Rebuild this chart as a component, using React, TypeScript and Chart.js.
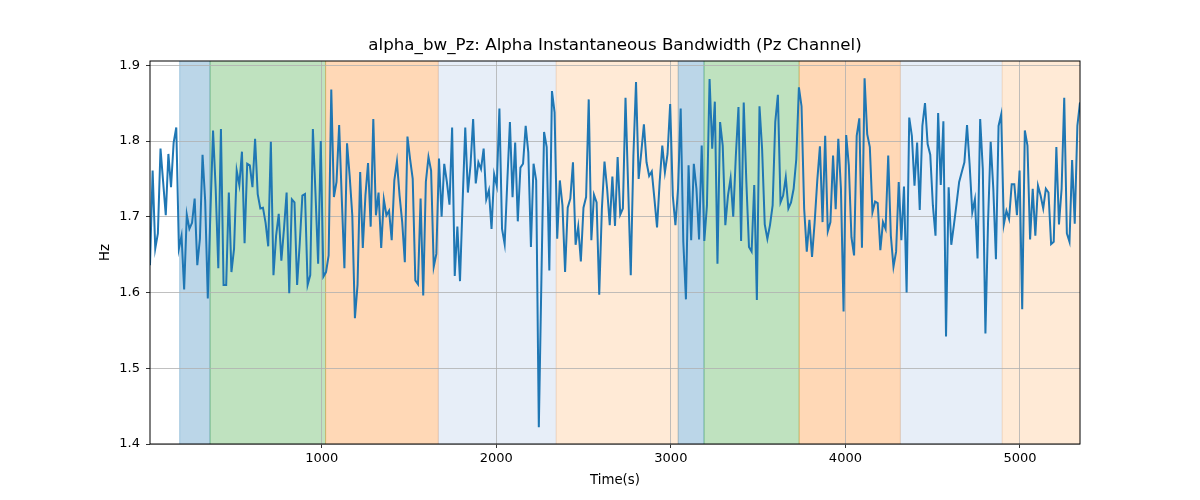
import { useEffect, useRef } from "react";
import { Chart, registerables, type Plugin } from "chart.js";

Chart.register(...registerables);

const bwValues: number[] = [
  // ~16 s .. ~900 s
  1.636, 1.761, 1.658, 1.678, 1.790, 1.746, 1.702, 1.783, 1.739, 1.798,
  1.818, 1.658, 1.675, 1.604, 1.703, 1.684, 1.692, 1.724, 1.636, 1.671,
  1.782, 1.721, 1.592, 1.706, 1.814, 1.737, 1.632, 1.816, 1.610, 1.610,
  1.732, 1.627, 1.658, 1.761, 1.742, 1.786, 1.665, 1.770, 1.768, 1.739,
  1.803, 1.730, 1.711, 1.712, 1.692, 1.661, 1.799, 1.623, 1.675, 1.704,
  1.642, 1.684, 1.732, 1.599, 1.723, 1.719, 1.610, 1.665, 1.728,
  // ~900 s .. ~1790 s
  1.730, 1.610, 1.623, 1.816, 1.730, 1.638, 1.800, 1.621, 1.627, 1.649,
  1.868, 1.726, 1.746, 1.821, 1.724, 1.632, 1.797, 1.754, 1.702, 1.566,
  1.610, 1.759, 1.659, 1.728, 1.771, 1.687, 1.829, 1.702, 1.732, 1.659,
  1.723, 1.702, 1.708, 1.669, 1.748, 1.773, 1.728, 1.693, 1.640, 1.806,
  1.776, 1.750, 1.616, 1.611, 1.724, 1.596, 1.746, 1.779, 1.761, 1.634,
  1.651, 1.777, 1.700, 1.770, 1.746, 1.716, 1.818, 1.622, 1.687,
  // ~1790 s .. ~2680 s
  1.615, 1.720, 1.818, 1.732, 1.768, 1.829, 1.744, 1.772, 1.763, 1.790,
  1.723, 1.735, 1.684, 1.756, 1.741, 1.843, 1.684, 1.664, 1.746, 1.825,
  1.726, 1.798, 1.694, 1.765, 1.770, 1.820, 1.785, 1.660, 1.770, 1.748,
  1.422, 1.620, 1.812, 1.792, 1.629, 1.866, 1.838, 1.671, 1.748, 1.715,
  1.627, 1.712, 1.724, 1.772, 1.663, 1.687, 1.641, 1.712, 1.726, 1.855,
  1.669, 1.729, 1.719, 1.597, 1.710, 1.773, 1.737, 1.689, 1.753,
  // ~2680 s .. ~3570 s
  1.688, 1.779, 1.703, 1.711, 1.857, 1.740, 1.623, 1.780, 1.878, 1.750,
  1.785, 1.822, 1.772, 1.754, 1.760, 1.724, 1.686, 1.746, 1.794, 1.759,
  1.783, 1.849, 1.728, 1.689, 1.737, 1.843, 1.667, 1.591, 1.768, 1.669,
  1.770, 1.737, 1.670, 1.794, 1.668, 1.715, 1.882, 1.790, 1.852, 1.638,
  1.825, 1.794, 1.689, 1.728, 1.751, 1.700, 1.781, 1.845, 1.668, 1.851,
  1.746, 1.660, 1.654, 1.742, 1.590, 1.846, 1.789, 1.690, 1.671,
  // ~3570 s .. ~4460 s
  1.689, 1.715, 1.825, 1.861, 1.719, 1.728, 1.752, 1.711, 1.719, 1.737,
  1.776, 1.871, 1.846, 1.711, 1.654, 1.696, 1.647, 1.693, 1.748, 1.793,
  1.693, 1.807, 1.681, 1.693, 1.781, 1.710, 1.803, 1.737, 1.575, 1.808,
  1.768, 1.673, 1.649, 1.807, 1.830, 1.659, 1.883, 1.809, 1.792, 1.706,
  1.720, 1.718, 1.656, 1.693, 1.684, 1.781, 1.675, 1.634, 1.654, 1.746,
  1.669, 1.740, 1.600, 1.831, 1.807, 1.741, 1.798, 1.709, 1.820,
  // ~4460 s .. end
  1.850, 1.796, 1.782, 1.715, 1.675, 1.837, 1.742, 1.826, 1.542, 1.739,
  1.663, 1.689, 1.717, 1.746, 1.759, 1.772, 1.821, 1.768, 1.706, 1.723,
  1.645, 1.829, 1.763, 1.546, 1.693, 1.799, 1.737, 1.644, 1.820, 1.835,
  1.690, 1.708, 1.697, 1.743, 1.743, 1.702, 1.761, 1.578, 1.814, 1.794,
  1.670, 1.737, 1.675, 1.741, 1.728, 1.711, 1.737, 1.732, 1.664, 1.667,
  1.792, 1.690, 1.737, 1.857, 1.678, 1.667, 1.775, 1.691, 1.820, 1.851,
];

// first / last sample time (s)
const T_START = 16;
const T_END = 5344;

// --- Shaded segments: start, end (s) and colour ---
const bandStarts = [186, 360, 1022, 1668, 2343, 3042, 3190, 3735, 4315, 4898];
const bandEnds = [360, 1022, 1668, 2343, 3042, 3190, 3735, 4315, 4898, 5400];
const bandColors = [
  "rgba(31,119,180,0.3)",  // blue
  "rgba(44,160,44,0.3)",   // green
  "rgba(255,127,14,0.3)",  // orange
  "rgba(174,199,232,0.3)", // light blue
  "rgba(255,187,120,0.3)", // light orange
  "rgba(31,119,180,0.3)",
  "rgba(44,160,44,0.3)",
  "rgba(255,127,14,0.3)",
  "rgba(174,199,232,0.3)",
  "rgba(255,187,120,0.3)",
];

// --- Axis ticks ---
const xTicks = [1000, 2000, 3000, 4000, 5000];
const yTicks = [1.4, 1.5, 1.6, 1.7, 1.8, 1.9];

const TITLE = "alpha_bw_Pz: Alpha Instantaneous Bandwidth (Pz Channel)";
const X_TITLE = "Time(s)";
const Y_TITLE = "Hz";
const FONT = "'DejaVu Sans', sans-serif";

// bands behind the grid, frame + titles on top
const decorPlugin: Plugin<"line"> = {
  id: "decor",
  beforeDraw: chart => {
    const { ctx, chartArea, scales } = chart;
    const x = scales.x;
    ctx.save();
    ctx.beginPath();
    ctx.rect(chartArea.left, chartArea.top, chartArea.width, chartArea.height);
    ctx.clip();
    bandStarts.forEach((s, i) => {
      const x0 = x.getPixelForValue(s);
      const x1 = x.getPixelForValue(bandEnds[i]);
      ctx.fillStyle = bandColors[i];
      ctx.fillRect(x0, chartArea.top, x1 - x0, chartArea.height);
      ctx.strokeStyle = bandColors[i];
      ctx.lineWidth = 1;
      ctx.beginPath();
      ctx.moveTo(x0, chartArea.top);
      ctx.lineTo(x0, chartArea.bottom);
      ctx.moveTo(x1, chartArea.top);
      ctx.lineTo(x1, chartArea.bottom);
      ctx.stroke();
    });
    ctx.restore();
  },
  afterDraw: chart => {
    const { ctx, chartArea } = chart;
    ctx.save();
    ctx.strokeStyle = "#000";
    ctx.lineWidth = 1;
    ctx.strokeRect(chartArea.left, chartArea.top, chartArea.width, chartArea.height);

    ctx.fillStyle = "#000";
    ctx.textAlign = "center";
    ctx.textBaseline = "middle";
    const cx = (chartArea.left + chartArea.right) / 2;
    ctx.font = `16.7px ${FONT}`;
    ctx.fillText(TITLE, cx, 46);
    ctx.font = `13.3px ${FONT}`;
    ctx.fillText(X_TITLE, cx, 481);
    ctx.translate(106, (chartArea.top + chartArea.bottom) / 2);
    ctx.rotate(-Math.PI / 2);
    ctx.fillText(Y_TITLE, 0, 0);
    ctx.restore();
  },
};

export default function App() {
  const canvasRef = useRef<HTMLCanvasElement | null>(null);

  useEffect(() => {
    document.body.style.margin = "0";
    if (!canvasRef.current) return;

    const step = (T_END - T_START) / (bwValues.length - 1);
    const points = bwValues.map((v, i) => ({ x: T_START + i * step, y: v }));

    const chart = new Chart(canvasRef.current, {
      type: "line",
      data: {
        datasets: [
          {
            label: "alpha_bw_Pz",
            data: points,
            borderColor: "#1f77b4",
            borderWidth: 2,
            pointRadius: 0,
            tension: 0,
            fill: false,
          },
        ],
      },
      options: {
        animation: false,
        responsive: true,
        maintainAspectRatio: false,
        layout: { padding: { left: 0, right: 120, top: 61, bottom: 0 } },
        plugins: {
          legend: { display: false },
          title: { display: false },
          tooltip: { enabled: false },
        },
        scales: {
          x: {
            type: "linear",
            min: T_START,
            max: T_END,
            afterBuildTicks: scale => {
              scale.ticks = xTicks.map(v => ({ value: v }));
            },
            afterFit: scale => {
              scale.height = 56;
            },
            border: { display: false },
            grid: {
              color: "#b0b0b0",
              lineWidth: 0.8,
              tickColor: "#000",
              tickLength: 4,
            },
            ticks: {
              color: "#000",
              font: { family: FONT, size: 13 },
              padding: 3,
              maxRotation: 0,
              callback: v => String(v),
            },
          },
          y: {
            type: "linear",
            min: 1.4,
            max: 1.9057,
            afterBuildTicks: scale => {
              scale.ticks = yTicks.map(v => ({ value: v }));
            },
            afterFit: scale => {
              scale.width = 150;
            },
            border: { display: false },
            grid: {
              color: "#b0b0b0",
              lineWidth: 0.8,
              tickColor: "#000",
              tickLength: 4,
            },
            ticks: {
              color: "#000",
              font: { family: FONT, size: 13 },
              padding: 6,
              callback: v => Number(v).toFixed(1),
            },
          },
        },
      },
      plugins: [decorPlugin],
    });

    return () => {
      chart.destroy();
    };
  }, []);

  return (
    <div style={{ width: 1200, height: 500, position: "relative" }}>
      <canvas ref={canvasRef} />
    </div>
  );
}
